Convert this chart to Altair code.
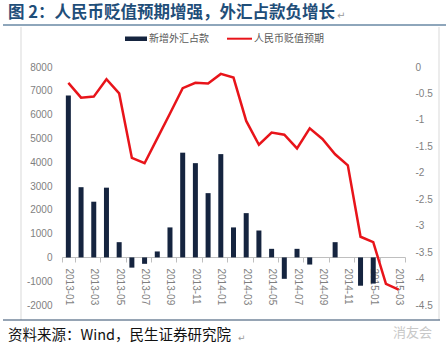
import altair as alt
import pandas as pd

# ---- data ----
months = [
    "2013-01", "2013-02", "2013-03", "2013-04", "2013-05", "2013-06", "2013-07",
    "2013-08", "2013-09", "2013-10", "2013-11", "2013-12",
    "2014-01", "2014-02", "2014-03", "2014-04", "2014-05", "2014-06", "2014-07",
    "2014-08", "2014-09", "2014-10", "2014-11", "2014-12",
    "2015-01", "2015-02", "2015-03",
]
fx_new = [
    6800, 2950, 2340, 2930, 640, -430, -270, 250, 1260, 4400, 3960, 2700,
    4340, 1260, 1860, 1130, 360, -900, 360, -300, 0, 640, 0, -1190,
    -1100, None, None,
]
rmb_expect = [
    -0.30, -0.58, -0.56, -0.23, -0.50, -1.72, -1.82, -1.35, -0.88, -0.40, -0.30, -0.31,
    -0.13, -0.20, -1.02, -1.47, -1.24, -1.28, -1.54, -1.16, -1.36, -1.65, -1.86, -3.21,
    -3.31, -4.10, -4.21,
]
label_months = months[::2]
left_ticks = [-2000, -1000, 0, 1000, 2000, 3000, 4000, 5000, 6000, 7000, 8000]
right_ticks = [-4.5, -4, -3.5, -3, -2.5, -2, -1.5, -1, -0.5, 0]
series_names = ["新增外汇占款", "人民币贬值预期"]
title_text = "图 2：人民币贬值预期增强，外汇占款负增长"
source_text = "资料来源：Wind，民生证券研究院"
watermark_text = "消友会"

df = pd.DataFrame({"month": months, "fx": fx_new, "rmb": rmb_expect})
one = pd.DataFrame({"k": [0]})

W, H = 343, 238
BAR_COLOR = "#15243F"
LINE_COLOR = "#E8141A"
GRAY = "#7F7F7F"
LABEL_FONT = "Liberation Sans"
CJK = "Noto Sans CJK SC"

x_axis = alt.Axis(
    values=label_months, labelAngle=90, labelAlign="left", labelBaseline="middle",
    labelPadding=6, tickBand="extent", tickSize=5, tickColor="#BFBFBF",
    domainColor="#BFBFBF", offset=-48, labelColor=GRAY, labelFontSize=10,
    labelFont=LABEL_FONT, title=None, grid=False, labelOverlap=False,
)
x_enc = alt.X("month:O", sort=months, scale=alt.Scale(paddingInner=0, paddingOuter=0), axis=x_axis)

bars = alt.Chart(df).mark_bar(size=5, color=BAR_COLOR).encode(
    x=x_enc,
    y=alt.Y(
        "fx:Q",
        scale=alt.Scale(domain=[-2000, 8000], nice=False, zero=False),
        axis=alt.Axis(
            orient="left", values=left_ticks, labelExpr="'' + datum.value",
            domain=False, ticks=False, grid=False, labelPadding=10,
            labelColor=GRAY, labelFontSize=10, labelFont=LABEL_FONT, title=None,
        ),
    ),
)

line = alt.Chart(df).mark_line(color=LINE_COLOR, strokeWidth=2.5).encode(
    x=x_enc,
    y=alt.Y(
        "rmb:Q",
        scale=alt.Scale(domain=[-4.5, 0], nice=False, zero=False),
        axis=alt.Axis(
            orient="right", values=right_ticks, labelExpr="'' + datum.value",
            domain=False, ticks=False, grid=False, labelPadding=10,
            labelColor=GRAY, labelFontSize=10, labelFont=LABEL_FONT, title=None,
        ),
    ),
)

# ---- decorations (pixel offsets relative to plot origin at 62,67) ----
def txt(text, x, y, size, color, font=CJK, weight="normal", align="left"):
    return alt.Chart(one).mark_text(
        text=text, align=align, baseline="middle", fontSize=size, color=color,
        font=font, fontWeight=weight,
    ).encode(x=alt.value(x), y=alt.value(y))

def rule(x, x2, y, y2, color, width=1):
    return alt.Chart(one).mark_rule(color=color, strokeWidth=width).encode(
        x=alt.value(x), x2=alt.value(x2), y=alt.value(y), y2=alt.value(y2)
    )

title = txt(title_text, -54, -54, 16.5, "#1F4E79", weight="bold")
title_mark = txt("↵", 275, -51, 10, "#9A9A9A", font="DejaVu Sans")
underline = rule(-59, 384, -42, -42, "#1F4E79", 1.2)
frame_left = rule(-41, -41, -40, 253, "#D9D9D9")
frame_right = rule(377, 377, -40, 253, "#D9D9D9")
bottom_line = rule(-59, 378, 253, 253, "#2E4A6B", 1.2)

leg_rect = alt.Chart(one).mark_rect(color=BAR_COLOR).encode(
    x=alt.value(63), x2=alt.value(85), y=alt.value(-30.5), y2=alt.value(-26)
)
leg_line = rule(165, 190, -28.3, -28.3, LINE_COLOR, 2)
leg_t1 = txt(series_names[0], 87, -28.3, 10, "#595959")
leg_t2 = txt(series_names[1], 192, -28.3, 10, "#595959")

source = txt(source_text, -54, 269, 14.5, "#111111")
source_mark = txt("↵", 176, 271, 9, "#9A9A9A", font="DejaVu Sans")
watermark = txt(watermark_text, 331, 266, 13, "#C8C8C8")

chart = alt.layer(
    bars, line,
    title, title_mark, underline, frame_left, frame_right, bottom_line,
    leg_rect, leg_line, leg_t1, leg_t2, source, source_mark, watermark,
).resolve_scale(y="independent").properties(
    width=W, height=H,
    autosize=alt.AutoSizeParams(type="none"),
    padding={"left": 62, "top": 67, "right": 41, "bottom": 46},
    background="white",
).configure_view(strokeWidth=0)

chart.save("out.html", embed_options={"renderer": "svg", "actions": False})
